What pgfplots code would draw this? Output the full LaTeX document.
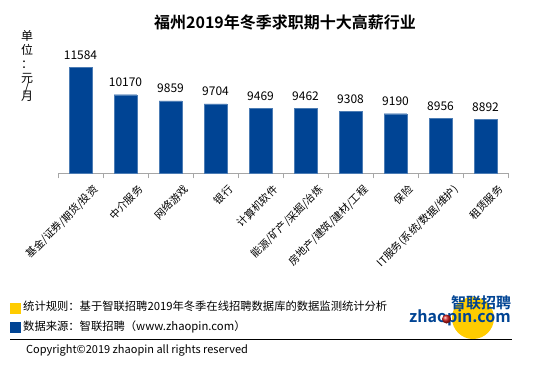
\documentclass[border=0pt]{standalone}
\usepackage{pgfplots}
\pgfplotsset{compat=1.18}
\usepackage{fontspec}
\setmainfont{Noto Sans CJK SC}
\newfontfamily\cjkb{Noto Sans CJK SC Bold}
\definecolor{barblue}{RGB}{0,68,148}
\definecolor{zyellow}{RGB}{255,204,0}
\definecolor{zred}{RGB}{210,30,30}
\begin{document}
\begin{tikzpicture}
\path[use as bounding box, fill=white] (0,0) rectangle (550bp,-366bp);
\begin{axis}[
  at={(58bp,-173.3bp)}, anchor=south west,
  scale only axis, width=450bp, height=135bp,
  xmin=-0.5, xmax=9.5, ymin=6120, ymax=13079,
  enlargelimits=false,
  hide y axis,
  axis x line=bottom,
  x axis line style={-, draw=gray!70, line width=0.8pt},
  xtick={0,...,9},
  xticklabels={基金/证券/期货/投资,中介服务,网络游戏,银行,计算机软件,能源/矿产/采掘/冶炼,房地产/建筑/建材/工程,保险,IT服务(系统/数据/维护),租赁服务},
  major tick length=0pt,
  minor xtick={-0.5,0.5,...,9.5},
  minor tick length=5bp,
  tick align=outside,
  minor tick style={draw=gray!70, line width=0.8pt},
  xticklabel style={rotate=45, anchor=north east, font=\fontsize{10.5bp}{12bp}\selectfont, inner sep=1bp, xshift=2bp, yshift=-15bp},
  ybar, bar width=22.7bp,
  nodes near coords={\pgfmathprintnumber[1000 sep={},fixed,precision=0,assume math mode=true]{\pgfplotspointmeta}},
  nodes near coords style={font=\fontsize{12bp}{14bp}\selectfont, anchor=base, yshift=8bp, text=black},
]
\addplot[fill=barblue, draw=barblue!70!white] coordinates {
 (0,11584) (1,10170) (2,9859) (3,9704) (4,9469) (5,9462) (6,9308) (7,9190) (8,8956) (9,8892)};
\end{axis}
% title
\node[font=\cjkb\fontsize{16bp}{18bp}\selectfont] at (285bp,-22bp) {福州2019年冬季求职期十大高薪行业};
% unit
\node[font=\fontsize{12bp}{14bp}\selectfont, align=center, anchor=north, inner sep=0pt] at (27bp,-30bp) {单\\位\\：\\元\\[-5bp]/\\[-5bp]月};
% footer legend
\fill[zyellow] (10bp,-303bp) rectangle (21bp,-314bp);
\fill[barblue] (10bp,-322bp) rectangle (21bp,-333bp);
\node[anchor=west, inner sep=0pt, font=\fontsize{11.3bp}{13bp}\selectfont] at (23bp,-306bp) {统计规则：基于智联招聘2019年冬季在线招聘数据库的数据监测统计分析};
\node[anchor=west, inner sep=0pt, font=\fontsize{11.3bp}{13bp}\selectfont] at (23bp,-327bp) {数据来源：智联招聘（www.zhaopin.com）};
\draw[black, line width=0.8pt] (10bp,-339bp) -- (512bp,-339bp);
\node[anchor=west, inner sep=0pt, font=\fontsize{11bp}{13bp}\selectfont] at (26bp,-350bp) {Copyright©2019 zhaopin all rights reserved};
% logo
\fill[zyellow] (473bp,-318bp) ellipse (21bp and 21bp);
\node[font=\cjkb\fontsize{15bp}{16bp}\selectfont, text=barblue, inner sep=0pt] at (481bp,-303bp) {智联招聘};
\node[font=\cjkb\fontsize{16bp}{17bp}\selectfont, text=barblue, inner sep=0pt] at (460bp,-318bp) {zhaopin.com};
\shade[ball color=zred] (446.5bp,-319bp) circle (4.5bp);
\end{tikzpicture}
\end{document}
